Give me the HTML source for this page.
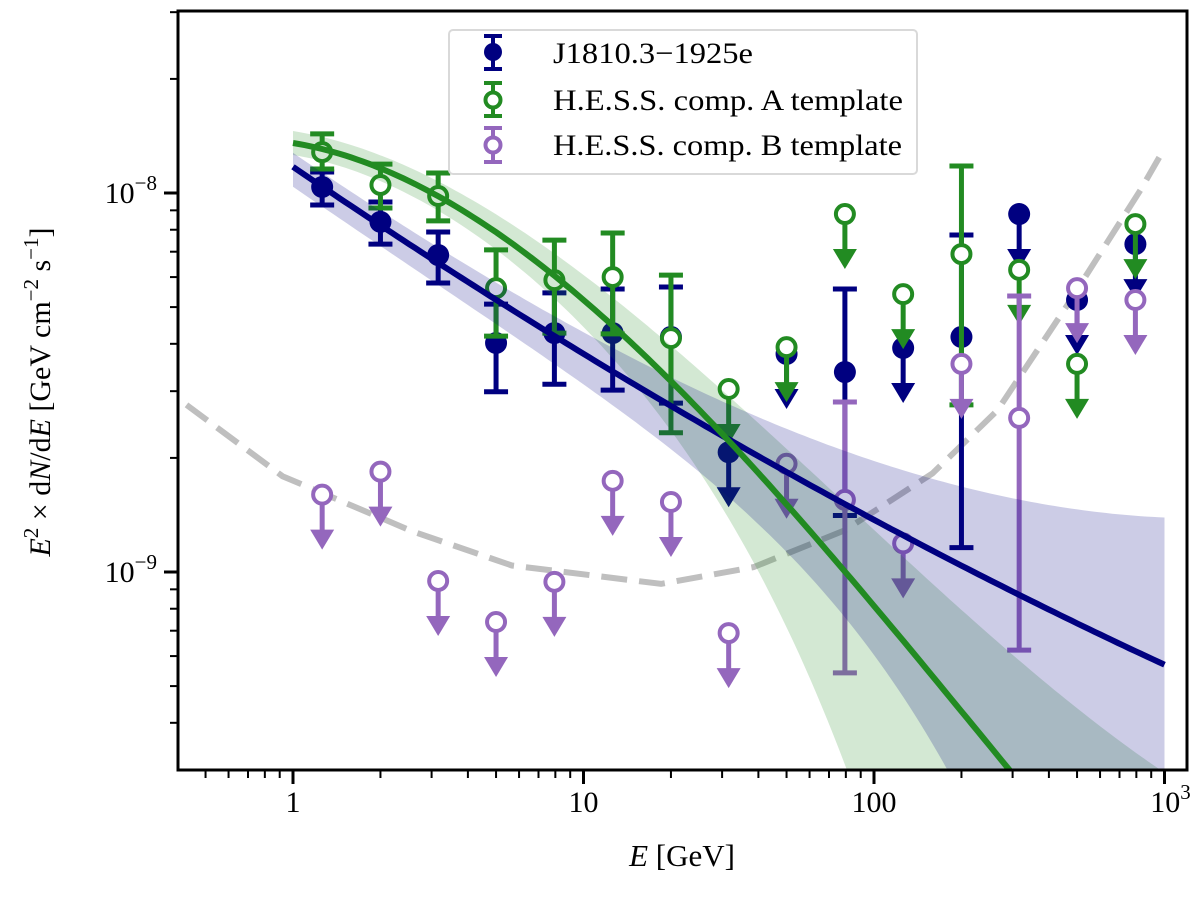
<!DOCTYPE html>
<html><head><meta charset="utf-8"><style>
html,body{margin:0;padding:0;background:#fff;overflow:hidden;width:1200px;height:897px;}
svg{display:block;font-family:"Liberation Serif","DejaVu Serif",serif;}
</style></head><body>
<svg id="chart" width="1200" height="897" viewBox="0 0 1200 897" xmlns="http://www.w3.org/2000/svg">
<defs><clipPath id="plotclip"><rect x="178" y="11" width="1009" height="759"/></clipPath></defs>
<rect x="0" y="0" width="1200" height="897" fill="#fff"/>
<g id="plot" clip-path="url(#plotclip)"></g>
<g id="axes"></g>
<text x="682" y="866" font-size="31" text-anchor="middle"><tspan font-style="italic">E</tspan> [GeV]</text>
<text transform="translate(50,392) rotate(-90)" font-size="30" text-anchor="middle"><tspan font-style="italic">E</tspan><tspan font-size="21" dy="-12">2</tspan><tspan dy="12"> × d</tspan><tspan font-style="italic">N</tspan>/d<tspan font-style="italic">E</tspan> [GeV cm<tspan font-size="21" dy="-12">−2</tspan><tspan dy="12"> s</tspan><tspan font-size="21" dy="-12">−1</tspan><tspan dy="12">]</tspan></text>
<g>
  <rect x="449" y="30" width="468" height="144" rx="4" fill="#fff" fill-opacity="0.8" stroke="#d9d9d9" stroke-width="2"/>
  <g>
    <line x1="493" y1="36" x2="493" y2="69" stroke="#000080" stroke-width="4"/>
    <line x1="484" y1="36" x2="502" y2="36" stroke="#000080" stroke-width="4"/>
    <line x1="484" y1="69" x2="502" y2="69" stroke="#000080" stroke-width="4"/>
    <circle cx="493" cy="52" r="9" fill="#000080"/>
    <text x="553" y="63" font-size="30" textLength="200" lengthAdjust="spacingAndGlyphs">J1810.3−1925e</text>
  </g>
  <g>
    <line x1="493" y1="83" x2="493" y2="116" stroke="#228b22" stroke-width="4"/>
    <line x1="484" y1="83" x2="502" y2="83" stroke="#228b22" stroke-width="4"/>
    <line x1="484" y1="116" x2="502" y2="116" stroke="#228b22" stroke-width="4"/>
    <circle cx="493" cy="100" r="7.5" fill="#fff" stroke="#228b22" stroke-width="4"/>
    <text x="553" y="110" font-size="30" textLength="350" lengthAdjust="spacingAndGlyphs">H.E.S.S. comp. A template</text>
  </g>
  <g>
    <line x1="493" y1="128" x2="493" y2="162" stroke="#9467bd" stroke-width="4"/>
    <line x1="484" y1="128" x2="502" y2="128" stroke="#9467bd" stroke-width="4"/>
    <line x1="484" y1="162" x2="502" y2="162" stroke="#9467bd" stroke-width="4"/>
    <circle cx="493" cy="145" r="7.5" fill="#fff" stroke="#9467bd" stroke-width="4"/>
    <text x="553" y="155" font-size="30" textLength="349" lengthAdjust="spacingAndGlyphs">H.E.S.S. comp. B template</text>
  </g>
</g>
</svg>
<script>
// ---- data ----
const energies = [1.26, 2, 3.16, 5, 7.94, 12.6, 20, 31.6, 50, 79.4, 126, 200, 316, 500, 794];
const blueFlux = [1.037e-8, 8.39e-9, 6.86e-9, 4.02e-9, 4.27e-9, 4.27e-9, 4.17e-9, 2.07e-9, 3.76e-9, 3.37e-9, 3.90e-9, 4.17e-9, 8.80e-9, 5.22e-9, 7.33e-9];
const blueHi = [1.136e-8, 9.47e-9, 7.89e-9, 5.09e-9, 5.45e-9, 5.58e-9, 5.65e-9, null, null, 5.58e-9, null, 7.75e-9, null, null, null];
const blueLo = [9.30e-9, 7.33e-9, 5.79e-9, 2.99e-9, 3.13e-9, 3.02e-9, 2.79e-9, null, null, 1.41e-9, null, 1.16e-9, null, null, null];
const greenFlux = [1.282e-8, 1.05e-8, 9.82e-9, 5.61e-9, 5.89e-9, 6.00e-9, 4.14e-9, 3.04e-9, 3.92e-9, 8.80e-9, 5.41e-9, 6.90e-9, 6.27e-9, 3.54e-9, 8.28e-9];
const greenHi = [1.432e-8, 1.192e-8, 1.129e-8, 7.08e-9, 7.51e-9, 7.84e-9, 6.07e-9, null, null, null, null, 1.178e-8, null, null, null];
const greenLo = [1.157e-8, 9.13e-9, 8.44e-9, 4.19e-9, 4.27e-9, 4.25e-9, 2.33e-9, null, null, null, null, 2.76e-9, null, null, null];
const purpleFlux = [1.60e-9, 1.84e-9, 9.47e-10, 7.38e-10, 9.42e-10, 1.74e-9, 1.53e-9, 6.90e-10, 1.93e-9, 1.55e-9, 1.19e-9, 3.54e-9, 2.55e-9, 5.61e-9, 5.22e-9];
const purpleHi = [null, null, null, null, null, null, null, null, null, 2.81e-9, null, null, 5.35e-9, null, null];
const purpleLo = [null, null, null, null, null, null, null, null, null, 5.42e-10, null, null, 6.22e-10, null, null];
const sensE = [0.43, 0.92, 2.58, 5.67, 18.5, 38.5, 79.6, 159, 266, 458, 828, 993];
const sensFlux = [2.76e-9, 1.79e-9, 1.28e-9, 1.04e-9, 9.3e-10, 1.03e-9, 1.29e-9, 1.82e-9, 2.67e-9, 5.0e-9, 1.02e-8, 1.30e-8];
const xTickVals = [1, 10, 100, 1000];
const xTickLabels = ["1", "10", "100", "10^3"];
const yTickVals = [1e-9, 1e-8];
const yTickLabels = ["10^-9", "10^-8"];
// ---- model coefficients (log10 flux vs log10 E) ----
const blueModel = [-7.931, -0.521, 0.0277, 0];
const greenModel = [-7.868, -0.1253, -0.3351, 0.0462];

const NS = "http://www.w3.org/2000/svg";
const X0 = 293, XD = 290.5, Y0 = 193, YD = 379;
function xS(E){ return X0 + XD * Math.log10(E); }
function yS(F){ return Y0 - YD * (Math.log10(F) + 8); }
function yL(lf){ return Y0 - YD * (lf + 8); }
function mk(tag, attrs, parent){ const e = document.createElementNS(NS, tag); for (const k in attrs) e.setAttribute(k, attrs[k]); parent.appendChild(e); return e; }
const plot = document.getElementById('plot');
const axes = document.getElementById('axes');
const NAVY = "#000080", GREEN = "#228b22", PURPLE = "#9467bd";
function poly(c, L){ return c[0] + c[1]*L + c[2]*L*L + c[3]*L*L*L; }

let d = sensE.map((e,i)=>(i?'L':'M')+xS(e).toFixed(1)+','+yS(sensFlux[i]).toFixed(1)).join(' ');
const sens = mk('path', {d:d, fill:'none', stroke:'#bfbfbf', 'stroke-width':6, 'stroke-dasharray':'26,12'}, plot);



function series(flux, hi, lo, color, filled, name){
  const g = mk('g', {}, plot);
  
  
  energies.forEach((E,i)=>{
    const x = xS(E), y = yS(flux[i]);
    const pg = mk('g', {}, g);
    
    
    if (hi[i] !== null) {
      const yh = yS(hi[i]), yl = yS(lo[i]);
      mk('line', {x1:x, y1:yh, x2:x, y2:yl, stroke:color, 'stroke-width':5}, pg);
      mk('line', {x1:x-12, y1:yh, x2:x+12, y2:yh, stroke:color, 'stroke-width':5}, pg);
      mk('line', {x1:x-12, y1:yl, x2:x+12, y2:yl, stroke:color, 'stroke-width':5}, pg);
    } else {
      mk('line', {x1:x, y1:y, x2:x, y2:y+40, stroke:color, 'stroke-width':5}, pg);
      mk('path', {d:`M${x-12},${y+35} L${x+12},${y+35} L${x},${y+55} Z`, fill:color}, pg);
    }
    if (filled) mk('circle', {cx:x, cy:y, r:11, fill:color}, pg);
    else mk('circle', {cx:x, cy:y, r:9, fill:'#fff', stroke:color, 'stroke-width':4}, pg);
  });
}
series(blueFlux, blueHi, blueLo, NAVY, true, 'j1810');
series(greenFlux, greenHi, greenLo, GREEN, false, 'hess-a');
series(purpleFlux, purpleHi, purpleLo, PURPLE, false, 'hess-b');

function band(c, wu, wd, fill, name){
  const up = [], dn = [];
  for (let k=0;k<=150;k++){ const L = 3*k/150; const m = poly(c,L);
    up.push(xS(10**L).toFixed(1)+','+yL(m + wu(L)/379).toFixed(1));
    dn.push(xS(10**L).toFixed(1)+','+Math.min(2000,yL(m - wd(L)/379)).toFixed(1)); }
  const p = mk('path', {d:'M'+up.join(' L')+' L'+dn.reverse().join(' L')+' Z', fill:fill, stroke:'none'}, plot);
  
  
}
band(greenModel, L=>12+10*L*L+3*L**3, L=>12+9*L*L+6*L**5, 'rgba(34,139,34,0.2)', 'hess-a-band');
band(blueModel, L=>14+4*L*L+3.6*L**3, L=>20+8*L*L+2.6*L**5, 'rgba(0,0,128,0.2)', 'j1810-band');

function line(c, color, name){
  const pts=[]; for (let k=0;k<=150;k++){ const L=3*k/150; pts.push(xS(10**L).toFixed(1)+','+yL(poly(c,L)).toFixed(1)); }
  const p = mk('path', {d:'M'+pts.join(' L'), fill:'none', stroke:color, 'stroke-width':6}, plot);
  
  
}
line(blueModel, NAVY, 'j1810-model-line');
line(greenModel, GREEN, 'hess-a-model-line');

const frame = mk('rect', {x:178, y:11, width:1009, height:759, fill:'none', stroke:'#000', 'stroke-width':3}, axes);


for (let dec=-1; dec<=3; dec++){
  for (let m=1;m<=9;m++){
    const x = xS(m*10**dec);
    if (x < 178 || x > 1187) continue;
    mk('line', {x1:x, y1:770, x2:x, y2:770+(m===1?14:8), stroke:'#000', 'stroke-width': m===1?3:2}, axes);
  }
}
function supLabel(parent, x, y, base, sup, anchor){
  const t = mk('text', {x:x, y:y, 'font-size':30, 'text-anchor':anchor, fill:'#000'}, parent);
  t.appendChild(document.createTextNode(base));
  if (sup) { const s = mk('tspan', {'font-size':21, dy:-13}, t); s.textContent = sup; }
  return t;
}
xTickVals.forEach((v,i)=>{
  const parts = xTickLabels[i].split('^');
  const t = supLabel(axes, xS(v) + (parts[1]?6:0), 812, parts[0], parts[1] || null, 'middle');
  
  
});
for (let dec=-11; dec<=-7; dec++){
  for (let m=1;m<=9;m++){
    const y = yS(m*10**dec);
    if (y < 11 || y > 770) continue;
    mk('line', {x1:178, y1:y, x2:178-(m===1?14:8), y2:y, stroke:'#000', 'stroke-width': m===1?3:2}, axes);
  }
}
yTickVals.forEach((v,i)=>{
  const parts = yTickLabels[i].split('^');
  const t = supLabel(axes, 157, yS(v)+10, parts[0], parts[1].replace('-','\u2212'), 'end');
  
  
});
</script>
</body></html>
